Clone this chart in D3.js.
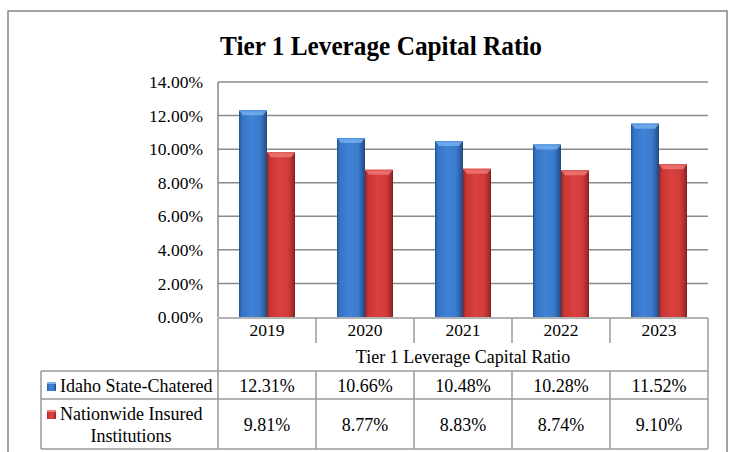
<!DOCTYPE html>
<html>
<head>
<meta charset="utf-8">
<script src="https://cdn.jsdelivr.net/npm/d3@7"></script>
<style>
  html, body { margin: 0; padding: 0; background: #fff; }
  svg text { font-family: "Liberation Serif", "Times New Roman", "DejaVu Serif", serif !important; fill: #000; }
</style>
</head>
<body>
<svg id="chart" width="734" height="452"></svg>
<script>
const title = "Tier 1 Leverage Capital Ratio";
const categories = ["2019", "2020", "2021", "2022", "2023"];
const seriesNames = ["Idaho State-Chatered", "Nationwide Insured Institutions"];
const idahoValues = [12.31, 10.66, 10.48, 10.28, 11.52];
const nationwideValues = [9.81, 8.77, 8.83, 8.74, 9.10];
const yTicks = [0, 2, 4, 6, 8, 10, 12, 14];
const axisTitle = "Tier 1 Leverage Capital Ratio";

const seriesValues = [idahoValues, nationwideValues];
const svg = d3.select("#chart");
const gridColor = "#8a8a8a";
const tableColor = "#9a9a9a";

// gradients
const defs = svg.append("defs");
const palettes = [
  { id: "gBlue", stops: ["#24528f", "#3674c4", "#3f82d6", "#3b7bcd", "#2a5c9e", "#1f4578"], cap: "#79b2f0", capEdge: "#4f8fdc" },
  { id: "gRed", stops: ["#8e2424", "#c73533", "#d8413f", "#d13c3a", "#a92c2b", "#7d1f1f"], cap: "#f07a77", capEdge: "#dc5350" }
];
palettes.forEach(p => {
  const g = defs.append("linearGradient").attr("id", p.id).attr("x1", 0).attr("x2", 1).attr("y1", 0).attr("y2", 0);
  [0, 0.1, 0.45, 0.75, 0.92, 1].forEach((o, i) => g.append("stop").attr("offset", o).attr("stop-color", p.stops[i]));
});

// outer border
svg.append("rect").attr("x", 8).attr("y", 11).attr("width", 719).attr("height", 470)
  .attr("fill", "none").attr("stroke", "#858585").attr("stroke-width", 1.5);

// title
svg.append("text").attr("x", 381).attr("y", 55).attr("text-anchor", "middle")
  .attr("font-size", 27).attr("font-weight", "bold")
  .attr("textLength", 322).attr("lengthAdjust", "spacingAndGlyphs")
  .text(title);

// scales
const x0 = d3.scaleBand().domain(categories).range([218, 708]).padding(0);
const x1 = d3.scaleBand().domain(seriesNames).range([0, x0.bandwidth()]).paddingInner(0).paddingOuter(0.75);
const y = d3.scaleLinear().domain([0, 14]).range([317, 82]);

// gridlines
svg.append("g").selectAll("line").data(yTicks.filter(d => d > 0)).join("line")
  .attr("x1", 218).attr("x2", 708)
  .attr("y1", d => y(d)).attr("y2", d => y(d))
  .attr("stroke", gridColor).attr("stroke-width", 1.5);

// y axis line (plot left)
svg.append("line").attr("x1", 218).attr("x2", 218).attr("y1", y(14)).attr("y2", y(0))
  .attr("stroke", gridColor).attr("stroke-width", 1.5);

// y tick labels via axis
const yAxis = d3.axisLeft(y).tickValues(yTicks).tickSize(0).tickPadding(15)
  .tickFormat(d => d.toFixed(2) + "%");
const yg = svg.append("g").attr("transform", "translate(218,0)").call(yAxis)
  .attr("font-family", null).attr("font-size", 17.5);
yg.select(".domain").remove();
yg.selectAll("text").attr("fill", "#000");

// bars
const barData = [];
categories.forEach((c, i) => seriesNames.forEach((s, j) => barData.push({ c, s, j, v: seriesValues[j][i] })));
const bars = svg.append("g").selectAll("g").data(barData).join("g")
  .attr("transform", d => `translate(${x0(d.c) + x1(d.s)},0)`);
bars.append("rect")
  .attr("x", 0).attr("width", x1.bandwidth())
  .attr("y", d => y(d.v)).attr("height", d => y(0) - y(d.v))
  .attr("fill", d => `url(#${palettes[d.j].id})`);
// top bevel cap
bars.append("path")
  .attr("d", d => {
    const w = x1.bandwidth(), t = y(d.v), h = 5, inset = 4;
    return `M0,${t} L${w},${t} L${w - inset},${t + h} L${inset},${t + h} Z`;
  })
  .attr("fill", d => palettes[d.j].cap).attr("opacity", 0.8);
bars.append("line")
  .attr("x1", 0).attr("x2", x1.bandwidth())
  .attr("y1", d => y(d.v) + 0.5).attr("y2", d => y(d.v) + 0.5)
  .attr("stroke", d => palettes[d.j].capEdge).attr("stroke-width", 1);

// data table
const tbl = svg.append("g").attr("stroke", tableColor).attr("stroke-width", 1.5).attr("fill", "none");
const tableLeft = 41, plotLeft = 218, plotRight = 708;
const rowTop = 371, rowMid = 399, rowBottom = 449;
tbl.append("line").attr("x1", plotLeft).attr("x2", plotRight).attr("y1", 318).attr("y2", 318);
tbl.append("line").attr("x1", plotLeft).attr("x2", plotLeft).attr("y1", 318).attr("y2", rowBottom);
tbl.append("line").attr("x1", plotRight).attr("x2", plotRight).attr("y1", 318).attr("y2", rowBottom);
tbl.append("line").attr("x1", tableLeft).attr("x2", tableLeft).attr("y1", rowTop).attr("y2", rowBottom);
[rowTop, rowMid, rowBottom].forEach(yy =>
  tbl.append("line").attr("x1", tableLeft).attr("x2", plotRight).attr("y1", yy).attr("y2", yy));
const innerSeps = categories.slice(1).map(c => x0(c));
tbl.selectAll(".sepTop").data(innerSeps).join("line").attr("class", "sepTop")
  .attr("x1", d => d).attr("x2", d => d).attr("y1", 318).attr("y2", 343);
tbl.selectAll(".sepRow").data(innerSeps).join("line").attr("class", "sepRow")
  .attr("x1", d => d).attr("x2", d => d).attr("y1", rowTop).attr("y2", rowBottom);

// year labels
svg.append("g").selectAll("text").data(categories).join("text")
  .attr("x", d => x0(d) + x0.bandwidth() / 2).attr("y", 336)
  .attr("text-anchor", "middle").attr("font-size", 17.5).text(d => d);

// axis title row
svg.append("text").attr("x", (plotLeft + plotRight) / 2).attr("y", 363)
  .attr("text-anchor", "middle").attr("font-size", 18).text(axisTitle);

// values
const valueFmt = v => v.toFixed(2) + "%";
const rowBaselines = [392, 431];
seriesValues.forEach((vals, j) => {
  svg.append("g").selectAll("text").data(vals).join("text")
    .attr("x", (d, i) => x0(categories[i]) + x0.bandwidth() / 2)
    .attr("y", rowBaselines[j]).attr("text-anchor", "middle")
    .attr("font-size", 18).text(d => valueFmt(d));
});

// legend keys
const keyY = [382, 410];
palettes.forEach((p, j) => {
  svg.append("rect").attr("x", 47).attr("y", keyY[j]).attr("width", 9).attr("height", 9)
    .attr("fill", `url(#${p.id})`);
  svg.append("rect").attr("x", 47).attr("y", keyY[j]).attr("width", 9).attr("height", 2)
    .attr("fill", p.cap);
});
svg.append("text").attr("x", 60).attr("y", 392).attr("font-size", 18).text(seriesNames[0]);
const nameParts = ["Nationwide Insured", "Institutions"];
svg.append("text").attr("x", 60).attr("y", 420).attr("font-size", 18).text(nameParts[0]);
svg.append("text").attr("x", 131).attr("y", 442).attr("text-anchor", "middle").attr("font-size", 18).text(nameParts[1]);
</script>
</body>
</html>
